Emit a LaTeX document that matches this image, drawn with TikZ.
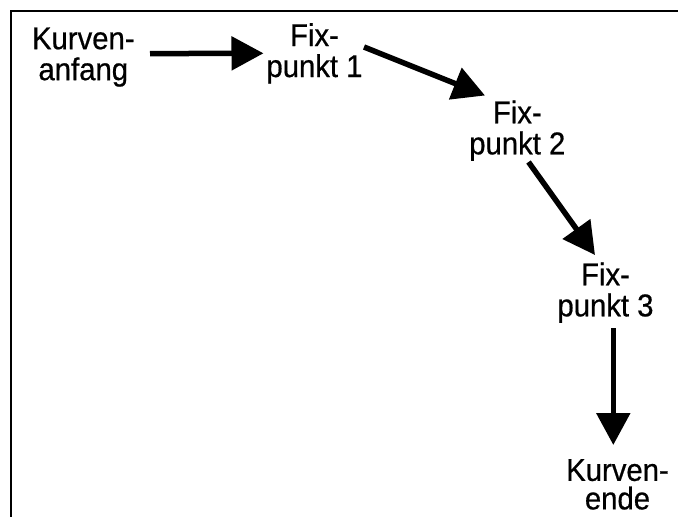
\documentclass[tikz,border=0pt]{standalone}
\usepackage{fontspec}
\setmainfont[FakeStretch=0.93, FakeBold=0.6]{Liberation Sans}
\usetikzlibrary{arrows.meta}
\tikzset{
  lbl/.style={anchor=north, inner sep=0pt, align=center,
    font=\fontsize{31.5}{31}\selectfont},
  arr/.style={line width=5.5pt,
    -{Triangle[length=32pt,width=33pt]}},
  frame/.style={line width=1.5pt}
}
\begin{document}
\begin{tikzpicture}[x=1pt, y=-1pt]
  \useasboundingbox (0,0) rectangle (678,517);
  \clip (0,0) rectangle (678,517);
  % outer frame (only top and left edges fall inside the page)
  \draw[frame] (11,11) rectangle (700,540);

  % points along the curve
  \node[lbl] (anf) at (83.3,27.3) {Kurven-\\anfang};
  \node[lbl] (fp1) at (314.5,23)  {Fix-\\punkt 1};
  \node[lbl] (fp2) at (517.3,100.3) {Fix-\\punkt 2};
  \node[lbl] (fp3) at (605.5,262.3) {Fix-\\punkt 3};
  \node[lbl] (end) at (617.5,459) {Kurven-\\[-2.5pt]ende};

  % arrows between consecutive points
  \draw[arr] ([shift={(66.7,26.3)}]anf.north) -- ([shift={(-51,30.3)}]fp1.north);
  \draw[arr] ([shift={(49.5,24)}]fp1.north) -- ([shift={(-32.3,-4.8)}]fp2.north);
  \draw[arr] ([shift={(11.2,61.7)}]fp2.north) -- ([shift={(-10.5,-7.3)}]fp3.north);
  \draw[arr] ([shift={(7.8,66)}]fp3.north) -- ([shift={(-4.2,-14)}]end.north);
\end{tikzpicture}
\end{document}
